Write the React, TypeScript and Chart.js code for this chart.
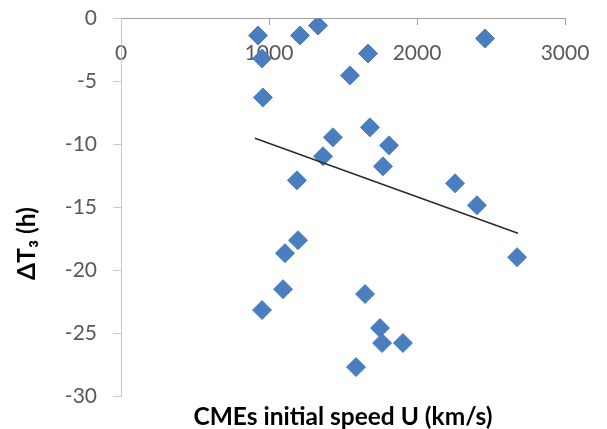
import React, { useEffect, useRef } from "react";
import { Chart, registerables } from "chart.js";

Chart.register(...registerables);

// CME initial speed U (km/s)
const speedU = [926, 953, 959, 1209, 1331, 1547, 1669, 2459, 1432, 1682, 1811, 1365, 1770, 1189, 2257, 2405, 2676, 1196, 1108, 1095, 953, 1649, 1750, 1764, 1905, 1588];
// ΔT3 (h)
const deltaT3 = [-1.35, -3.17, -6.27, -1.35, -0.56, -4.52, -2.78, -1.59, -9.44, -8.65, -10.08, -10.95, -11.75, -12.86, -13.1, -14.84, -18.97, -17.62, -18.65, -21.51, -23.17, -21.9, -24.6, -25.79, -25.79, -27.7];
// linear trend line end points
const trendX = [905, 2682];
const trendY = [-9.52, -17.06];

const xTitle = "CMEs initial speed U (km/s)";
const yTitle = "ΔT₃ (h)";

const titlesPlugin = {
  id: "axisTitles",
  afterDraw(chart: any) {
    const { ctx, chartArea } = chart;
    ctx.save();
    ctx.fillStyle = "#000000";
    ctx.textAlign = "center";
    ctx.textBaseline = "middle";
    ctx.font = "bold 24.5px Lato";
    ctx.fillText(xTitle, (chartArea.left + chartArea.right) / 2, chartArea.bottom + 21);
    ctx.translate(chartArea.left - 94, chartArea.top + 225);
    ctx.rotate(-Math.PI / 2);
    ctx.fillText(yTitle, 0, 0);
    ctx.restore();
  },
};

const plainLabel = (v: any) => String(v);

export default function App() {
  const ref = useRef<HTMLCanvasElement | null>(null);

  useEffect(() => {
    if (!ref.current) return;
    const points = speedU.map((x, i) => ({ x, y: deltaT3[i] }));
    const trend = trendX.map((x, i) => ({ x, y: trendY[i] }));
    const chart = new Chart(ref.current, {
      type: "scatter",
      data: {
        datasets: [
          {
            type: "line",
            data: trend,
            borderColor: "#2b2b2b",
            borderWidth: 1.5,
            pointRadius: 0,
            fill: false,
            order: 0,
          } as any,
          {
            data: points,
            pointStyle: "rectRot",
            pointRadius: 9.5,
            pointHoverRadius: 9.5,
            backgroundColor: "#4A7EBF",
            borderColor: "#4A7EBF",
            borderWidth: 1,
            order: 1,
          },
        ],
      },
      options: {
        animation: false,
        responsive: true,
        maintainAspectRatio: false,
        layout: { padding: { left: 0, right: 34, top: 10, bottom: 33 } },
        plugins: {
          legend: { display: false },
          tooltip: { enabled: false },
          title: { display: false },
        },
        scales: {
          x: {
            type: "linear",
            position: { y: 0 } as any,
            min: 0,
            max: 3000,
            z: 1,
            ticks: {
              stepSize: 1000,
              color: "#595959",
              font: { family: "Lato", size: 21 },
              padding: 16,
              maxRotation: 0,
              callback: plainLabel,
            },
            grid: { drawOnChartArea: false, drawTicks: true, tickLength: 6, color: "#A0A0A0" },
            border: { display: true, color: "#A0A0A0", width: 1 },
            afterFit(scale: any) {
              scale.paddingLeft = 0;
              scale.paddingRight = 0;
            },
          },
          y: {
            type: "linear",
            position: "left",
            min: -30,
            max: 0,
            ticks: {
              stepSize: 5,
              color: "#595959",
              font: { family: "Lato", size: 21 },
              padding: 16,
              callback: plainLabel,
            },
            grid: { drawOnChartArea: false, drawTicks: true, tickLength: 8, color: "#C8C8C8" },
            border: { display: true, color: "#C8C8C8", width: 1 },
            afterFit(scale: any) {
              scale.width = 113;
              scale.paddingTop = 0;
              scale.paddingBottom = 0;
            },
          },
        },
      } as any,
      plugins: [titlesPlugin],
    });
    return () => chart.destroy();
  }, []);

  return (
    <div style={{ position: "relative", width: 591, height: 421 }}>
      <canvas ref={ref} />
    </div>
  );
}
